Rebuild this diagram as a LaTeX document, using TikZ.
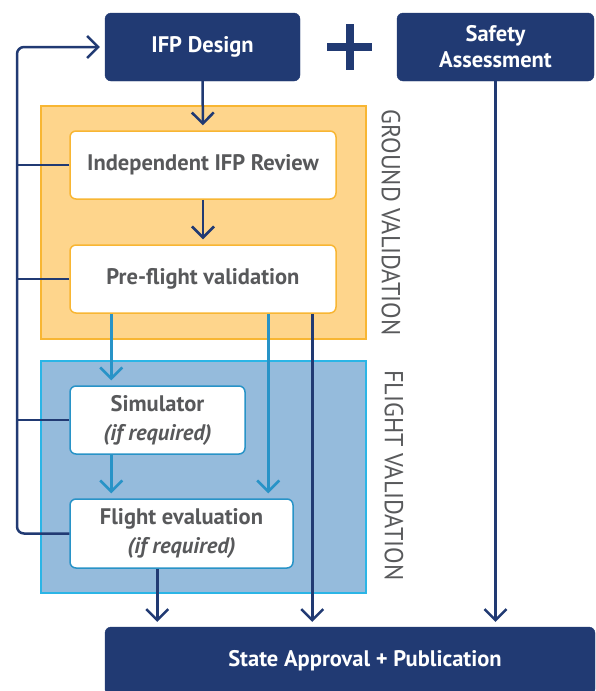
\documentclass[tikz,border=0pt]{standalone}
\usepackage{fontspec}
\setmainfont{PT Sans}
\usepackage{graphicx}
\usetikzlibrary{arrows.meta}
\definecolor{navy}{HTML}{213A73}
\definecolor{cyanline}{HTML}{2893C7}
\definecolor{groundfill}{HTML}{FED58C}
\definecolor{groundedge}{HTML}{F8B633}
\definecolor{flightfill}{HTML}{95BBDC}
\definecolor{flightedge}{HTML}{2BB5E6}
\definecolor{textgray}{HTML}{58595B}

\begin{document}
\begin{tikzpicture}[x=1pt, y=-1pt,
	darkbox/.style={fill=navy, draw=navy, rounded corners=6pt, text=white, align=center, font=\fontsize{22.5}{26}\selectfont\bfseries, minimum height=68pt, inner sep=0pt},
	groundbox/.style={fill=white, draw=groundedge, line width=1.5pt, rounded corners=6pt, text=textgray, align=center, font=\fontsize{22.5}{29}\selectfont\bfseries, minimum height=68pt, inner sep=0pt},
	flightbox/.style={groundbox, draw=cyanline},
	region/.style={line width=1.2pt, inner sep=0pt},
	sidelabel/.style={rotate=-90, text=textgray, font=\fontsize{26}{26}\selectfont},
	navyarrow/.style={draw=navy, line width=2.5pt, -{Straight Barb[length=11pt, width=22pt]}, shorten >=5pt},
	cyanarrow/.style={draw=cyanline, line width=2.5pt, -{Straight Barb[length=11pt, width=22pt]}, shorten >=5pt},
	navyline/.style={draw=navy, line width=2.5pt}]
	\useasboundingbox (0,0) rectangle (596,691);
	\clip (0,0) rectangle (596,691);

	% validation areas
	\node [region, fill=groundfill, draw=groundedge, minimum width=325pt, minimum height=233pt] (ground) at (203.5, 222.5) {};
	\node [region, fill=flightfill, draw=flightedge, minimum width=325pt, minimum height=232pt] (flight) at (203.5, 477) {};
	\node [sidelabel] (glabel) at (391, 222.5) {\scalebox{0.93}[1]{GROUND VALIDATION}};
	\node [sidelabel] (flabel) at (394, 475.5) {\scalebox{0.93}[1]{FLIGHT VALIDATION}};

	% boxes
	\node [darkbox, minimum width=195pt] (0) at (202.5, 47) {IFP Design};
	\node [darkbox, minimum width=197pt] (1) at (495.5, 47) {Safety\\Assessment};
	\node [groundbox, minimum width=266pt] (2) at (203, 165) {Independent IFP Review};
	\node [groundbox, minimum width=266pt] (3) at (203, 279) {Pre-flight validation};
	\node [flightbox, minimum width=175pt] (4) at (157.5, 420) {Simulator\\\itshape(if required)};
	\node [flightbox, minimum width=223pt, minimum height=69pt] (5) at (181.5, 533.5) {Flight evaluation\\\itshape(if required)};
	\node [darkbox, minimum width=490pt] (6) at (350, 661) {\hspace*{30pt}State Approval + Publication};

	% plus sign
	\fill [navy] (327, 43) rectangle (372, 51);
	\fill [navy] (346, 24) rectangle (354, 70);

	% helper points
	\coordinate (loop) at (17, 47);
	\coordinate (a) at ([xshift=243pt]3.south west);
	\coordinate (b) at ([xshift=88pt]5.south west);

	% main flow
	\draw [navyarrow] (0) to (2);
	\draw [navyarrow] (2) to (3);
	\draw [cyanarrow] ([xshift=42pt]3.south west) to ([xshift=42pt]4.north west);
	\draw [cyanarrow] ([xshift=199pt]3.south west) to ([xshift=199pt]5.north west);
	\draw [cyanarrow] ([xshift=42pt]4.south west) to ([xshift=42pt]5.north west);
	\draw [navyarrow] (a) to (a |- 6.north);
	\draw [navyarrow] (b) to (b |- 6.north);
	\draw [navyarrow] (1) to (1.south |- 6.north);

	% feedback loop
	\draw [navyarrow, rounded corners=7pt] (5.west) -- (loop |- 5.west) -- (loop) -- (0.west);
	\draw [navyline] (2.west) to (loop |- 2.west);
	\draw [navyline] (3.west) to (loop |- 3.west);
	\draw [navyline] (4.west) to (loop |- 4.west);
\end{tikzpicture}
\end{document}
